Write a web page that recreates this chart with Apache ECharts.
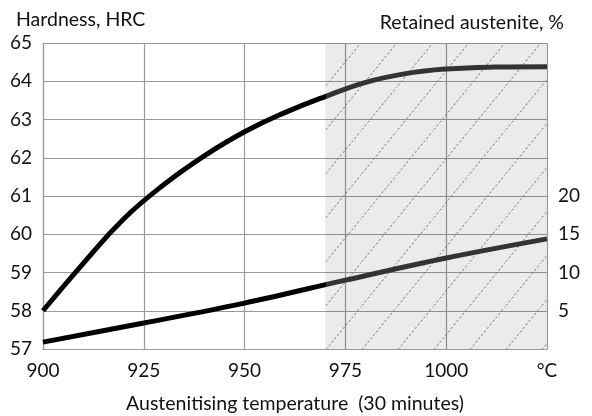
<!DOCTYPE html>
<html>
<head>
<meta charset="utf-8">
<script src="https://cdn.jsdelivr.net/npm/echarts@6/dist/echarts.min.js"></script>
<style>
  html, body { margin: 0; padding: 0; background: #fff; }
  #main { width: 592px; height: 416px; }
</style>
</head>
<body>
<div id="main"></div>
<script>
// hardness curve, HRC
const hardTemps = [900, 910, 920, 930, 940, 950, 960, 970, 980, 990, 1000, 1012, 1025]
const hardness = [58.0, 59.24, 60.4, 61.3, 62.05, 62.68, 63.18, 63.6, 63.97, 64.2, 64.32, 64.37, 64.38]

// retained austenite, %
const raTemps = [900, 925, 950, 975, 1000, 1025]
const austenite = [0.9, 3.4, 6.0, 9.0, 11.9, 14.4]

const xTicks = [900, 925, 950, 975, 1000, 1025]
const raLabels = [5, 10, 15, 20]
const shadedFrom = 970

const font = 'Lato'
const xMin = xTicks[0]
const xMax = xTicks[xTicks.length - 1]

// hatch tile for the shaded zone
function hatchTile () {
  const w = 36
  const h = 44
  const c = document.createElement('canvas')
  c.width = w
  c.height = h
  const ctx = c.getContext('2d')
  ctx.fillStyle = 'rgba(0,0,0,0.08)'
  ctx.fillRect(0, 0, w, h)
  ctx.strokeStyle = '#7a7a7a'
  ctx.lineWidth = 1
  ctx.setLineDash([2.5, 2])
  ctx.beginPath()
  ctx.moveTo(-1, h + h / w)
  ctx.lineTo(w + 1, -h / w)
  ctx.stroke()
  return c
}

// black line that turns dark grey inside the shaded zone
function splitColour () {
  const f = (shadedFrom - xMin) / (xMax - xMin)
  return new echarts.graphic.LinearGradient(0, 0, 1, 0, [
    { offset: 0, color: '#000' },
    { offset: f, color: '#000' },
    { offset: f, color: '#333' },
    { offset: 1, color: '#333' }
  ])
}

const chart = echarts.init(document.getElementById('main'))

chart.setOption({
  backgroundColor: '#fff',
  animation: false,
  title: [{
    text: 'Hardness, HRC',
    left: 11,
    top: 5,
    textStyle: { fontFamily: font, fontSize: 19.5, fontWeight: 'normal', color: '#111' }
  }, {
    text: 'Retained austenite, %',
    right: 23,
    top: 8,
    textStyle: { fontFamily: font, fontSize: 19.5, fontWeight: 'normal', color: '#111' }
  }],
  grid: { left: 43, right: 45, top: 43, bottom: 67, outerBoundsMode: 'none', containLabel: false },
  xAxis: {
    type: 'value',
    min: xMin,
    max: xMax,
    interval: 25,
    name: 'Austenitising temperature  (30 minutes)',
    nameLocation: 'middle',
    nameGap: 45,
    nameTextStyle: { fontFamily: font, fontSize: 19.5, color: '#111' },
    axisLine: { lineStyle: { color: '#9a9a9a', width: 1.2 } },
    axisTick: { show: false },
    axisLabel: {
      margin: 12,
      fontFamily: font,
      fontSize: 19,
      color: '#111',
      formatter: v => (v === xMax ? '°C' : String(v))
    },
    splitLine: { show: true, lineStyle: { color: '#9a9a9a', width: 1.2 } }
  },
  yAxis: [{
    type: 'value',
    min: 57,
    max: 65,
    interval: 1,
    axisLine: { show: true, lineStyle: { color: '#9a9a9a', width: 1.2 } },
    axisTick: { show: false },
    axisLabel: { margin: 11, fontFamily: font, fontSize: 19, color: '#111' },
    splitLine: { show: true, lineStyle: { color: '#9a9a9a', width: 1.2 } }
  }, {
    type: 'value',
    min: 0,
    max: 40,
    interval: 5,
    position: 'right',
    axisLine: { show: false },
    axisTick: { show: false },
    splitLine: { show: false },
    axisLabel: {
      margin: 11,
      fontFamily: font,
      fontSize: 19,
      color: '#111',
      formatter: v => (raLabels.indexOf(v) >= 0 ? String(v) : '')
    }
  }],
  series: [{
    name: 'Hardness',
    type: 'line',
    yAxisIndex: 0,
    smooth: 0.45,
    symbol: 'none',
    lineStyle: { width: 5, color: splitColour() },
    data: hardTemps.map((t, i) => [t, hardness[i]]),
    markArea: {
      silent: true,
      itemStyle: { color: { image: hatchTile(), repeat: 'repeat' } },
      data: [[{ xAxis: shadedFrom }, { xAxis: xMax }]]
    },
    z: 3
  }, {
    name: 'Retained austenite',
    type: 'line',
    yAxisIndex: 1,
    smooth: 0.35,
    symbol: 'none',
    lineStyle: { width: 5, color: splitColour() },
    data: raTemps.map((t, i) => [t, austenite[i]]),
    z: 3
  }]
})
</script>
</body>
</html>
